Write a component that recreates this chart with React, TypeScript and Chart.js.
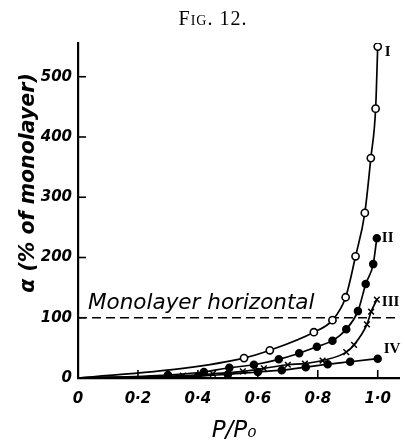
import React, { useEffect, useRef } from "react";
import { Chart, registerables } from "chart.js";
Chart.register(...registerables);

const xTickValues = [0, 0.2, 0.4, 0.6, 0.8, 1.0];
const yTickValues = [0, 100, 200, 300, 400, 500];

const curveIX = [0, 0.35, 0.554, 0.64, 0.787, 0.849, 0.893, 0.926, 0.957, 0.977, 0.993, 1.0];
const curveIY = [0, 16, 33, 46, 76, 96, 134, 202, 274, 365, 447, 550];

const curveIIX = [0, 0.3, 0.42, 0.505, 0.587, 0.67, 0.738, 0.797, 0.849, 0.895, 0.934, 0.96, 0.985, 0.997];
const curveIIY = [0, 5, 10, 17, 22, 31, 41, 52, 62, 81, 111, 156, 189, 232];

const curveIIIX = [0, 0.35, 0.45, 0.55, 0.62, 0.7, 0.757, 0.816, 0.895, 0.921, 0.964, 0.978, 0.997];
const curveIIIY = [0, 4, 7, 11, 16, 22, 24, 29, 43, 55, 89, 110, 130];

const curveIVX = [0, 0.4, 0.5, 0.6, 0.68, 0.76, 0.833, 0.908, 1.0];
const curveIVY = [0, 3, 6, 10, 13, 18, 23, 27, 32];

const curveLabels = ["I", "II", "III", "IV"];
const monolayerValue = 100;
const monolayerText = "Monolayer horizontal";
const figTitle = "Fig. 12.";
const yTitle = "α (% of monolayer)";
const xTitle = "P/P₀";

const toPts = (xs: number[], ys: number[]) => xs.map((x, i) => ({ x, y: ys[i] }));
const radii = (xs: number[], r: number, firstShown: number) => xs.map((_, i) => (i < firstShown ? 0 : r));

export default function App() {
  const ref = useRef<HTMLCanvasElement>(null);
  useEffect(() => {
    const canvas = ref.current!;
    const labelOffsets = [
      [7, 6],
      [5, 0],
      [5, 2],
      [6, -10],
    ];
    const decor = {
      id: "decor",
      beforeDatasetsDraw(chart: any) {
        const { ctx, chartArea, scales } = chart;
        const y = scales.y.getPixelForValue(monolayerValue);
        ctx.save();
        ctx.strokeStyle = "#000";
        ctx.lineWidth = 1.6;
        ctx.setLineDash([9, 5]);
        ctx.beginPath();
        ctx.moveTo(chartArea.left, y);
        ctx.lineTo(chartArea.right, y);
        ctx.stroke();
        ctx.setLineDash([]);
        ctx.lineWidth = 1.6;
        xTickValues.forEach((v) => {
          if (v === 0) return;
          const px = scales.x.getPixelForValue(v);
          ctx.beginPath();
          ctx.moveTo(px, chartArea.bottom);
          ctx.lineTo(px, chartArea.bottom - 8);
          ctx.stroke();
        });
        yTickValues.forEach((v) => {
          if (v === 0) return;
          const py = scales.y.getPixelForValue(v);
          ctx.beginPath();
          ctx.moveTo(chartArea.left, py);
          ctx.lineTo(chartArea.left + 8, py);
          ctx.stroke();
        });
        ctx.fillStyle = "#000";
        ctx.font = "italic 17px 'DejaVu Sans'";
        const w = ctx.measureText(monolayerText).width;
        const fs = (17 * 227) / w;
        ctx.font = `italic ${fs.toFixed(1)}px 'DejaVu Sans'`;
        ctx.textBaseline = "alphabetic";
        ctx.textAlign = "left";
        ctx.fillText(monolayerText, chartArea.left + 10, y - 9);
        ctx.restore();
      },
      afterDraw(chart: any) {
        const { ctx } = chart;
        ctx.save();
        ctx.fillStyle = "#000";
        ctx.font = "small-caps 20px 'Liberation Serif'";
        try {
          (ctx as any).letterSpacing = "1px";
        } catch (e) {}
        ctx.textAlign = "center";
        ctx.textBaseline = "middle";
        ctx.fillText(figTitle, 213, 20);
        try {
          (ctx as any).letterSpacing = "0px";
        } catch (e) {}
        ctx.font = "bold 15px 'Liberation Serif'";
        ctx.textAlign = "left";
        chart.data.datasets.forEach((ds: any, i: number) => {
          const meta = chart.getDatasetMeta(i);
          const last = meta.data[meta.data.length - 1];
          ctx.fillText(curveLabels[i], last.x + labelOffsets[i][0], last.y + labelOffsets[i][1]);
        });
        ctx.save();
        ctx.translate(29, 183);
        ctx.rotate(-Math.PI / 2);
        ctx.font = "italic bold 19px 'DejaVu Sans'";
        const tw = ctx.measureText(yTitle).width;
        const fs = (19 * 220) / tw;
        ctx.font = `italic bold ${fs.toFixed(1)}px 'DejaVu Sans'`;
        ctx.textAlign = "center";
        ctx.textBaseline = "middle";
        ctx.fillText(yTitle, 0, 0);
        ctx.restore();
        ctx.font = "italic 23px 'DejaVu Sans'";
        ctx.textAlign = "center";
        ctx.textBaseline = "middle";
        ctx.fillText(xTitle, 234, 431);
        ctx.restore();
      },
    };

    const chart = new Chart(canvas, {
      type: "line",
      data: {
        datasets: [
          {
            data: toPts(curveIX, curveIY),
            borderColor: "#000",
            borderWidth: 1.7,
            pointStyle: "circle",
            pointRadius: radii(curveIX, 3.6, 2),
            pointBackgroundColor: "#fff",
            pointBorderColor: "#000",
            pointBorderWidth: 1.6,
            cubicInterpolationMode: "monotone",
          },
          {
            data: toPts(curveIIX, curveIIY),
            borderColor: "#000",
            borderWidth: 1.7,
            pointStyle: "circle",
            pointRadius: radii(curveIIX, 3.4, 1),
            pointBackgroundColor: "#000",
            pointBorderColor: "#000",
            cubicInterpolationMode: "monotone",
          },
          {
            data: toPts(curveIIIX, curveIIIY),
            borderColor: "#000",
            borderWidth: 1.7,
            pointStyle: "crossRot",
            pointRadius: radii(curveIIIX, 4, 1),
            pointBorderColor: "#000",
            pointBorderWidth: 1.5,
            cubicInterpolationMode: "monotone",
          },
          {
            data: toPts(curveIVX, curveIVY),
            borderColor: "#000",
            borderWidth: 1.7,
            pointStyle: "circle",
            pointRadius: radii(curveIVX, 3.4, 1),
            pointBackgroundColor: "#000",
            pointBorderColor: "#000",
            cubicInterpolationMode: "monotone",
          },
        ],
      },
      options: {
        animation: false,
        responsive: false,
        maintainAspectRatio: false,
        layout: { padding: { top: 43, right: 0, left: 0, bottom: 0 } },
        plugins: { legend: { display: false }, tooltip: { enabled: false }, title: { display: false } },
        scales: {
          x: {
            type: "linear",
            min: 0,
            max: 1.072,
            afterFit: (s: any) => {
              s.height = 66;
            },
            afterBuildTicks: (s: any) => {
              s.ticks = xTickValues.map((v) => ({ value: v }));
            },
            grid: { display: false, drawTicks: false },
            border: { display: true, color: "#000", width: 2.2 },
            ticks: {
              padding: 12,
              color: "#000",
              maxRotation: 0,
              autoSkip: false,
              font: { family: "'DejaVu Sans'", style: "italic", weight: "bold", size: 15 },
              callback: (v: any) => (Number(v) === 0 ? "0" : Number(v).toFixed(1).replace(".", "·")),
            },
          },
          y: {
            type: "linear",
            min: 0,
            max: 556,
            afterFit: (s: any) => {
              s.width = 78;
            },
            afterBuildTicks: (s: any) => {
              s.ticks = yTickValues.map((v) => ({ value: v }));
            },
            grid: { display: false, drawTicks: false },
            border: { display: true, color: "#000", width: 2.2 },
            ticks: {
              padding: 6,
              color: "#000",
              autoSkip: false,
              font: { family: "'DejaVu Sans'", style: "italic", weight: "bold", size: 15 },
              callback: (v: any) => String(v),
            },
          },
        },
      },
      plugins: [decor],
    });
    return () => chart.destroy();
  }, []);
  return (
    <div style={{ position: "fixed", left: 0, top: 0, width: 405, height: 444, background: "#fff" }}>
      <canvas ref={ref} width={405} height={444} style={{ width: 405, height: 444, display: "block" }} />
    </div>
  );
}
